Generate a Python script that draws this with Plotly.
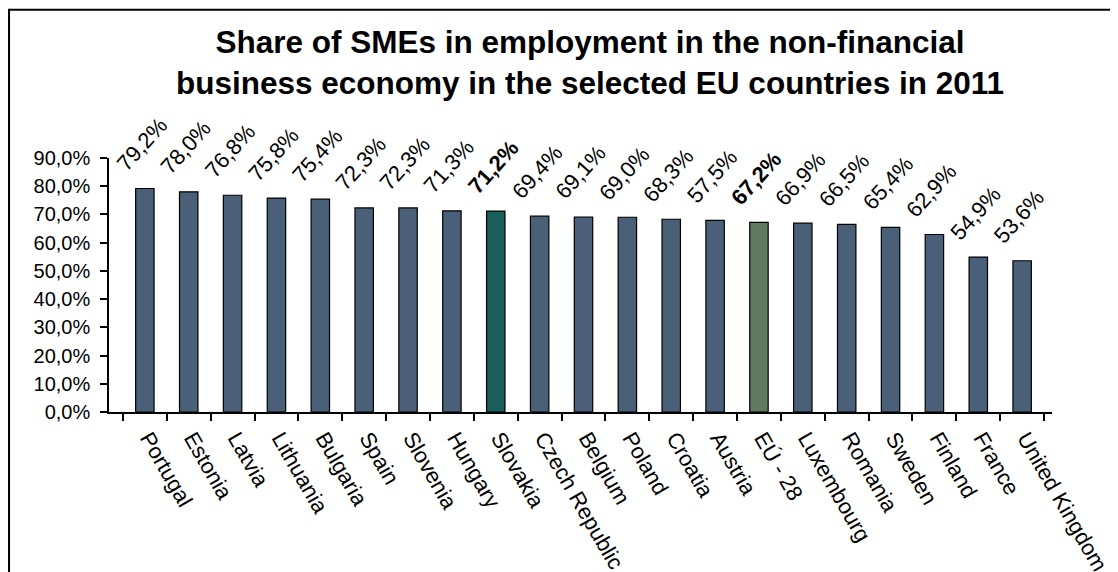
import plotly.graph_objects as go

# Data (share of SMEs in employment, %)
countries = ["Portugal", "Estonia", "Latvia", "Lithuania", "Bulgaria", "Spain",
             "Slovenia", "Hungary", "Slovakia", "Czech Republic", "Belgium",
             "Poland", "Croatia", "Austria", "EÚ - 28", "Luxembourg", "Romania",
             "Sweden", "Finland", "France", "United Kingdom"]
shares = [79.2, 78.0, 76.8, 75.8, 75.4, 72.3, 72.3, 71.3, 71.2, 69.4, 69.1,
          69.0, 68.3, 67.9, 67.2, 66.9, 66.5, 65.4, 62.9, 54.9, 53.6]
# labels as printed on the original (Austria's label differs from its bar)
share_labels = ["79,2%", "78,0%", "76,8%", "75,8%", "75,4%", "72,3%", "72,3%",
                "71,3%", "71,2%", "69,4%", "69,1%", "69,0%", "68,3%", "57,5%",
                "67,2%", "66,9%", "66,5%", "65,4%", "62,9%", "54,9%", "53,6%"]
highlight = {"Slovakia": "#1A5E5A", "EÚ - 28": "#5F7A5E"}
base_color = "#4A5F78"

FONT = "Liberation Sans, Arial, sans-serif"

colors = [highlight.get(c, base_color) for c in countries]

fig = go.Figure()
fig.add_trace(go.Bar(
    x=countries, y=shares,
    marker=dict(color=colors, line=dict(color="black", width=1.2)),
    width=0.42,
    hoverinfo="x+y",
))

# rotated value labels above each bar
for c, v, lab in zip(countries, shares, share_labels):
    bold = c in highlight
    fig.add_annotation(
        x=c, y=v, text=f"<b>{lab}</b>" if bold else lab,
        showarrow=False, textangle=-48, yshift=44, xshift=-3,
        font=dict(family=FONT, size=22, color="black"),
    )

# outer frame of the chart (right and bottom edges fall outside the picture)
fig.add_shape(type="rect", xref="paper", yref="paper",
              x0=-0.106, x1=1.08, y0=-0.7, y1=1.584,
              line=dict(color="black", width=2), fillcolor="rgba(0,0,0,0)",
              layer="below")

fig.update_layout(
    width=1110, height=564,
    paper_bgcolor="white", plot_bgcolor="white",
    separators=", ",
    showlegend=False,
    margin=dict(l=101, r=66, t=150, b=160, autoexpand=False),
    title=dict(
        text="<b>Share of SMEs in employment in the non-financial<br>"
             "business economy in the selected EU countries in 2011</b>",
        x=0.5243, xanchor="center", xref="container",
        y=0.92, yanchor="top", yref="container",
        font=dict(family=FONT, size=31.5, color="black"),
    ),
    font=dict(family=FONT, color="black"),
)

fig.update_xaxes(
    type="category", tickangle=60, tickson="boundaries",
    ticks="outside", ticklen=7, tickcolor="black", tickwidth=1.5,
    ticklabelshift=4, ticklabelstandoff=3,
    showline=True, linecolor="black", linewidth=1.5,
    showgrid=False, automargin=False,
    tickfont=dict(family=FONT, size=22, color="black"),
)
fig.update_yaxes(
    range=[0, 90], dtick=10, tickformat=".1f", ticksuffix="%",
    ticks="outside", ticklen=7, tickcolor="black", tickwidth=1.5,
    ticklabelstandoff=6,
    showline=True, linecolor="black", linewidth=1.5,
    showgrid=False, zeroline=False, automargin=False,
    tickfont=dict(family=FONT, size=20, color="black"),
)

fig.write_html("out.html")
